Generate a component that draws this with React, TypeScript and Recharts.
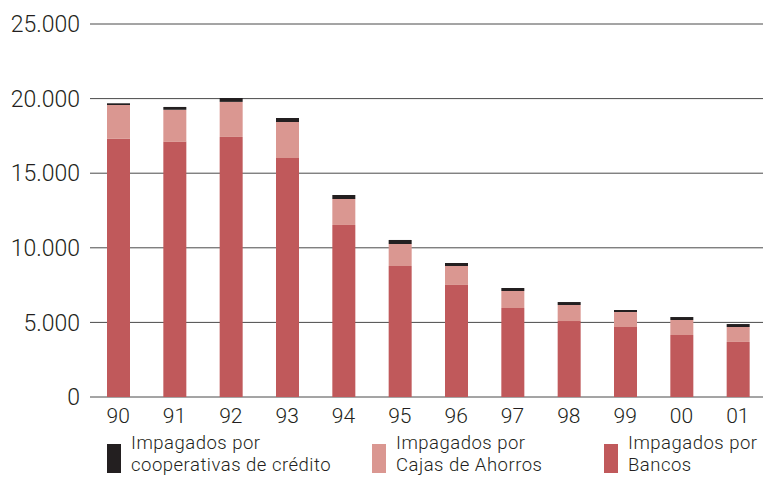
import { BarChart, Bar, XAxis, YAxis, CartesianGrid } from "recharts";

const years = ["90", "91", "92", "93", "94", "95", "96", "97", "98", "99", "00", "01"];
const bancos = [17300, 17100, 17430, 16020, 11530, 8780, 7510, 5965, 5090, 4690, 4155, 3690];
const cajas = [2270, 2150, 2350, 2410, 1740, 1475, 1270, 1140, 1075, 1005, 1005, 1000];
const cooperativas = [115, 190, 260, 270, 270, 270, 200, 200, 200, 135, 200, 200];
const yTicks = [0, 5000, 10000, 15000, 20000, 25000];

const RED = "#c0595b";
const PINK = "#da9791";
const DARK = "#231f20";
const FONT = "Roboto, 'Noto Sans', sans-serif";

const data = years.map((y, i) => ({
  year: y,
  bancos: bancos[i],
  cajas: cajas[i],
  coop: cooperativas[i],
}));

// thousands with a dot, as in the original
const fmt = (v: number) => String(v).replace(/\B(?=(\d{3})+(?!\d))/g, ".");

const legendItems = [
  { color: DARK, lines: ["Impagados por", "cooperativas de crédito"], left: 107 },
  { color: PINK, lines: ["Impagados por", "Cajas de Ahorros"], left: 372 },
  { color: RED, lines: ["Impagados por", "Bancos"], left: 604 },
];

export default function App() {
  return (
    <div
      style={{
        position: "fixed",
        left: 0,
        top: 0,
        width: 763,
        height: 477,
        overflow: "hidden",
        background: "#fff",
        fontFamily: FONT,
      }}
    >
      <BarChart width={766} height={430} data={data} margin={{ top: 24, right: 0, left: 0, bottom: 0 }}>
        <CartesianGrid vertical={false} stroke="#4a4a4a" strokeWidth={1} />
        <XAxis
          dataKey="year"
          height={33}
          axisLine={false}
          tickLine={false}
          tickMargin={5}
          tick={{ fontSize: 21, fill: DARK, fontFamily: FONT, fontWeight: 300 }}
        />
        <YAxis
          width={90}
          domain={[0, 25000]}
          ticks={yTicks}
          tickFormatter={fmt}
          axisLine={false}
          tickLine={false}
          tickMargin={4}
          tick={{ fontSize: 23, fill: DARK, fontFamily: FONT, fontWeight: 300 }}
        />
        <Bar dataKey="bancos" stackId="a" fill={RED} barSize={23} isAnimationActive={false} />
        <Bar dataKey="cajas" stackId="a" fill={PINK} barSize={23} isAnimationActive={false} />
        <Bar dataKey="coop" stackId="a" fill={DARK} barSize={23} isAnimationActive={false} />
      </BarChart>
      {legendItems.map((it) => (
        <div key={it.left} style={{ position: "absolute", left: it.left, top: 433 }}>
          <div
            style={{ position: "absolute", left: 0, top: 11, width: 14, height: 29, background: it.color }}
          />
          <div
            style={{
              position: "absolute",
              left: 24,
              top: 0,
              whiteSpace: "nowrap",
              fontSize: 18.5,
              lineHeight: "21.7px",
              letterSpacing: 0.5,
              fontWeight: 300,
              color: DARK,
            }}
          >
            {it.lines.map((l) => (
              <div key={l}>{l}</div>
            ))}
          </div>
        </div>
      ))}
    </div>
  );
}
